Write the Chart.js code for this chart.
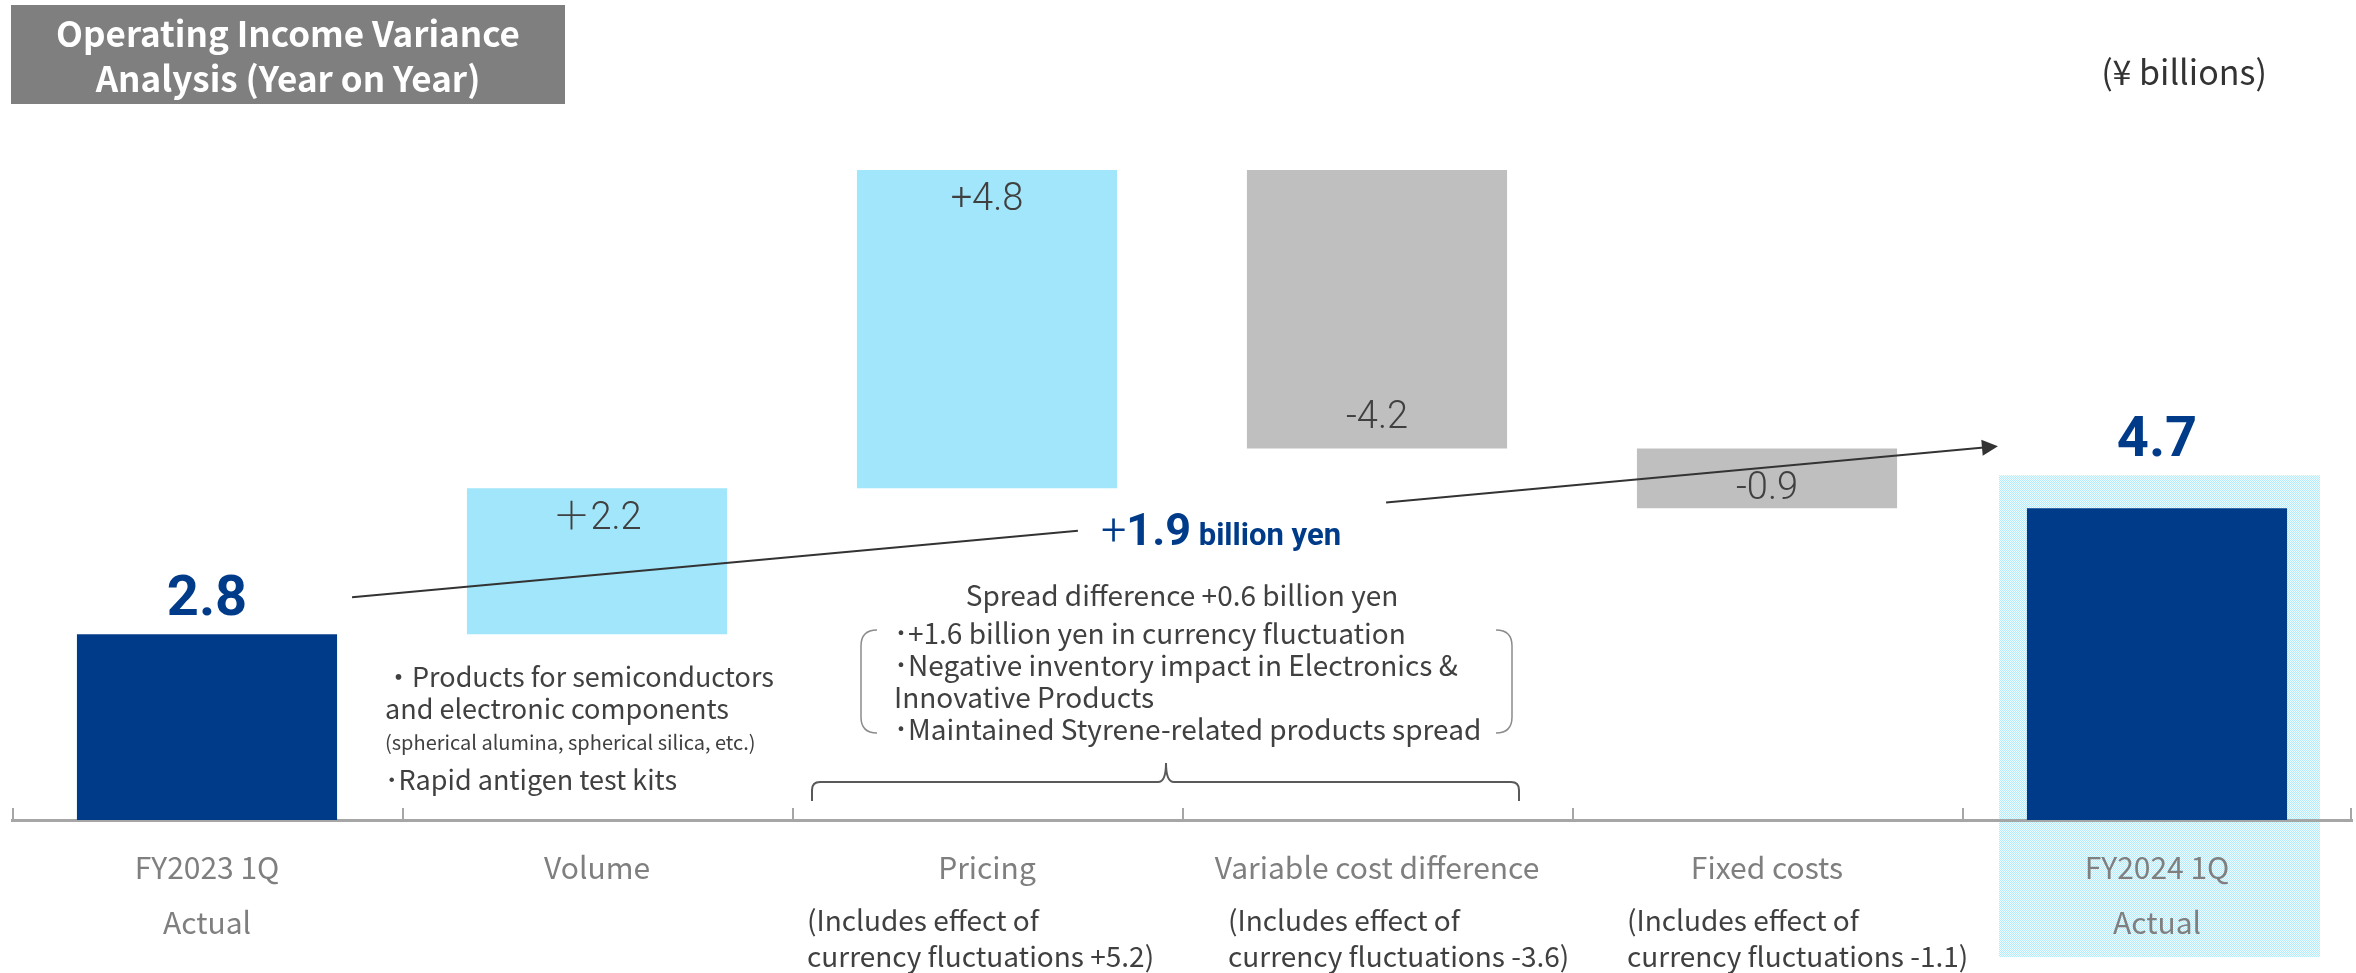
<!DOCTYPE html>
<html>
<head>
<meta charset="utf-8">
<script src="https://cdn.jsdelivr.net/npm/chart.js@4.4.0/dist/chart.umd.min.js"></script>
<style>
  html, body { margin: 0; padding: 0; background: #fff; }
  #wrap { position: relative; width: 2356px; height: 973px; }
</style>
</head>
<body>
<div id="wrap"><canvas id="chart"></canvas></div>
<script>
// data
const categories = [['FY2023 1Q', 'Actual'], 'Volume', 'Pricing', 'Variable cost difference', 'Fixed costs', ['FY2024 1Q', 'Actual']];
const changes = [2.8, 2.2, 4.8, -4.2, -0.9, 4.7];
const isTotal = [true, false, false, false, false, true];
const valueLabels = ['2.8', '＋2.2', '+4.8', '-4.2', '-0.9', '4.7'];
const barColors = ['#003b8a', '#a1e6fa', '#a1e6fa', '#bfbfbf', '#bfbfbf', '#003b8a'];
const yRange = [0, 12];

const totalChange = ['+', '1.9', ' billion yen'];
const volumeNotes = ['・Products for semiconductors', 'and electronic components', '(spherical alumina, spherical silica, etc.)', '･Rapid antigen test kits'];
const spreadTitle = 'Spread difference +0.6 billion yen';
const spreadNotes = ['･+1.6 billion yen in currency fluctuation', '･Negative inventory impact in Electronics &', 'Innovative Products', '･Maintained Styrene-related products spread'];
const currencyNotes = [null, null,
  ['(Includes effect of', 'currency fluctuations +5.2)'],
  ['(Includes effect of', 'currency fluctuations -3.6)'],
  ['(Includes effect of', 'currency fluctuations -1.1)'],
  null];

// waterfall ranges for floating bars
let running = 0;
const ranges = changes.map((v, i) => {
  if (isTotal[i]) { running = v; return [0, v]; }
  const r = [running, running + v];
  running += v;
  return r;
});

const FONT = "'Noto Sans CJK JP', 'Open Sans', sans-serif";
const NUM = "Roboto, 'Noto Sans CJK JP', sans-serif";
const BLUE = '#003b8a';
const TEXT = '#404040';

function hatchPattern(ctx) {
  const c = document.createElement('canvas');
  c.width = 2; c.height = 2;
  const g = c.getContext('2d');
  g.fillStyle = '#eefbff';
  g.fillRect(0, 0, 2, 2);
  g.fillStyle = '#b6ebfb';
  g.fillRect(0, 0, 1, 1);
  g.fillRect(1, 1, 1, 1);
  return ctx.createPattern(c, 'repeat');
}

function hatchBox(chart) {
  const bar = chart.getDatasetMeta(0).data[5];
  const top = Math.min(bar.y, bar.base);
  return { left: bar.x - 158, right: bar.x + 163, top: top - 33, bottom: chart.chartArea.bottom + 137 };
}

const decor = {
  id: 'decor',
  beforeDraw(chart) {
    const ctx = chart.ctx;
    const h = hatchBox(chart);
    ctx.save();
    ctx.fillStyle = hatchPattern(ctx);
    ctx.fillRect(h.left, h.top, h.right - h.left, h.bottom - h.top);
    ctx.restore();
  },
  afterDraw(chart) {
    const ctx = chart.ctx;
    const area = chart.chartArea;
    const xs = chart.scales.x;
    const ys = chart.scales.y;
    const bars = chart.getDatasetMeta(0).data;
    const base = area.bottom;
    const cx = i => xs.getPixelForValue(i);
    const catW = (area.right - area.left) / categories.length;
    ctx.save();

    // upward tick marks between categories
    ctx.strokeStyle = '#a6a6a6';
    ctx.lineWidth = 2;
    for (let i = 0; i <= categories.length; i++) {
      const x = Math.round(area.left + i * catW) + (i === categories.length ? -1 : 1);
      ctx.beginPath();
      ctx.moveTo(x, base - 12);
      ctx.lineTo(x, base);
      ctx.stroke();
    }

    // bar value labels
    const hb = hatchBox(chart);
    bars.forEach((bar, i) => {
      const top = Math.min(bar.y, bar.base);
      const bottom = Math.max(bar.y, bar.base);
      ctx.textAlign = 'center';
      if (isTotal[i]) {
        ctx.font = `bold 56px ${NUM}`;
        ctx.fillStyle = BLUE;
        ctx.textBaseline = 'alphabetic';
        const ref = i === bars.length - 1 ? hb.top : top;
        ctx.fillText(valueLabels[i], bar.x, ref - 19);
      } else {
        ctx.font = `300 38px ${NUM}`;
        ctx.fillStyle = TEXT;
        ctx.textBaseline = 'middle';
        const y = changes[i] > 0 ? top + 31 : bottom - Math.min(30, (bottom - top) * 0.32);
        ctx.fillText(valueLabels[i], bar.x, y);
      }
    });

    // arrow from first total to last total, broken by the +1.9 label
    const b0 = bars[0], b5 = bars[5];
    const x1 = b0.x + b0.width / 2 + 15, y1 = ys.getPixelForValue(changes[0]) - 37;
    const x2 = b5.x - b5.width / 2 - 29, y2 = ys.getPixelForValue(changes[5]) - 62;
    const lineY = x => y1 + (x - x1) * (y2 - y1) / (x2 - x1);

    ctx.textBaseline = 'alphabetic';
    ctx.textAlign = 'left';
    ctx.font = `300 45px ${NUM}`;
    const wPlus = ctx.measureText(totalChange[0]).width;
    ctx.font = `bold 45px ${NUM}`;
    const wNum = ctx.measureText(totalChange[1]).width;
    ctx.font = `bold 31px ${NUM}`;
    const wUnit = ctx.measureText(totalChange[2]).width;
    const tw = wPlus + wNum + wUnit;
    const tCenter = (area.left + 3 * catW) + 39;
    const tLeft = tCenter - tw / 2;
    const tBase = 545;
    ctx.fillStyle = BLUE;
    ctx.font = `300 45px ${NUM}`;
    ctx.fillText(totalChange[0], tLeft, tBase);
    ctx.font = `bold 45px ${NUM}`;
    ctx.fillText(totalChange[1], tLeft + wPlus, tBase);
    ctx.font = `bold 31px ${NUM}`;
    ctx.fillText(totalChange[2], tLeft + wPlus + wNum, tBase);

    const gapA = tLeft - 23, gapB = tLeft + tw + 45;
    ctx.strokeStyle = '#333';
    ctx.fillStyle = '#333';
    ctx.lineWidth = 2;
    ctx.beginPath();
    ctx.moveTo(x1, y1);
    ctx.lineTo(gapA, lineY(gapA));
    ctx.moveTo(gapB, lineY(gapB));
    ctx.lineTo(x2 - 14, lineY(x2 - 14));
    ctx.stroke();
    const ang = Math.atan2(y2 - y1, x2 - x1);
    ctx.beginPath();
    ctx.moveTo(x2, y2);
    ctx.lineTo(x2 - 16 * Math.cos(ang) + 8 * Math.sin(ang), y2 - 16 * Math.sin(ang) - 8 * Math.cos(ang));
    ctx.lineTo(x2 - 16 * Math.cos(ang) - 8 * Math.sin(ang), y2 - 16 * Math.sin(ang) + 8 * Math.cos(ang));
    ctx.closePath();
    ctx.fill();

    // volume notes
    ctx.fillStyle = TEXT;
    ctx.textBaseline = 'middle';
    ctx.textAlign = 'left';
    const vx = cx(1) - 212;
    const vy = [base - 143, base - 111, base - 78, base - 40];
    volumeNotes.forEach((t, k) => {
      ctx.font = (k === 2 ? '20px ' : '27px ') + FONT;
      ctx.fillText(t, vx, vy[k]);
    });

    // spread block between pricing and variable cost
    const mid = area.left + 3 * catW;
    ctx.font = `28px ${FONT}`;
    ctx.textAlign = 'center';
    ctx.fillText(spreadTitle, mid, 595);
    ctx.textAlign = 'left';
    spreadNotes.forEach((t, k) => ctx.fillText(t, mid - 288, 633 + k * 32));

    // rounded bracket around bullets
    ctx.strokeStyle = '#8c8c8c';
    ctx.lineWidth = 1.5;
    const bl = mid - 321, br = mid + 330, bt = 630, bb = 733, r = 16;
    ctx.beginPath();
    ctx.moveTo(bl + r, bt);
    ctx.quadraticCurveTo(bl, bt, bl, bt + r);
    ctx.lineTo(bl, bb - r);
    ctx.quadraticCurveTo(bl, bb, bl + r, bb);
    ctx.moveTo(br - r, bt);
    ctx.quadraticCurveTo(br, bt, br, bt + r);
    ctx.lineTo(br, bb - r);
    ctx.quadraticCurveTo(br, bb, br - r, bb);
    ctx.stroke();

    // curly brace over pricing + variable cost
    const el = mid - 370, er = mid + 337, ec = mid - 16, ey = 782;
    ctx.strokeStyle = '#595959';
    ctx.lineWidth = 2;
    ctx.beginPath();
    ctx.moveTo(el, 801);
    ctx.lineTo(el, ey + 8);
    ctx.quadraticCurveTo(el, ey, el + 8, ey);
    ctx.lineTo(ec - 8, ey);
    ctx.quadraticCurveTo(ec, ey, ec, ey - 19);
    ctx.quadraticCurveTo(ec, ey, ec + 8, ey);
    ctx.lineTo(er - 8, ey);
    ctx.quadraticCurveTo(er, ey, er, ey + 8);
    ctx.lineTo(er, 801);
    ctx.stroke();

    // currency notes under axis labels
    const noteShift = { 2: -180, 3: -149, 4: -140 };
    ctx.fillStyle = TEXT;
    ctx.font = `28px ${FONT}`;
    ctx.textAlign = 'left';
    currencyNotes.forEach((lines, i) => {
      if (!lines) return;
      lines.forEach((t, k) => ctx.fillText(t, cx(i) + noteShift[i], base + 100 + k * 36));
    });

    // title box
    ctx.fillStyle = '#7f7f7f';
    ctx.fillRect(11, 5, 554, 99);
    ctx.fillStyle = '#fff';
    ctx.font = `bold 35px ${FONT}`;
    ctx.textAlign = 'center';
    ctx.textBaseline = 'alphabetic';
    ctx.fillText('Operating Income Variance', 288, 47);
    ctx.fillText('Analysis (Year on Year)', 288, 92);

    // unit
    ctx.fillStyle = '#333';
    ctx.font = `34px ${FONT}`;
    ctx.fillText('(¥ billions)', 2184, 85);

    ctx.restore();
  }
};

new Chart(document.getElementById('chart'), {
  type: 'bar',
  data: {
    labels: categories,
    datasets: [{
      data: ranges,
      backgroundColor: barColors,
      borderWidth: 0,
      barPercentage: 0.667,
      categoryPercentage: 1
    }]
  },
  options: {
    responsive: true,
    maintainAspectRatio: false,
    animation: false,
    layout: { padding: { left: 12, right: 4, top: 24, bottom: 0 } },
    plugins: { legend: { display: false }, tooltip: { enabled: false } },
    scales: {
      x: {
        grid: { display: false, drawTicks: false },
        border: { display: true, color: '#a6a6a6', width: 3 },
        ticks: {
          color: '#7f7f7f',
          font: { family: FONT, size: 30, lineHeight: 1.83 },
          padding: 20,
          maxRotation: 0,
          autoSkip: false
        },
        afterFit(scale) { scale.height = 153; }
      },
      y: {
        display: false,
        min: yRange[0],
        max: yRange[1]
      }
    }
  },
  plugins: [decor]
});
</script>
</body>
</html>
